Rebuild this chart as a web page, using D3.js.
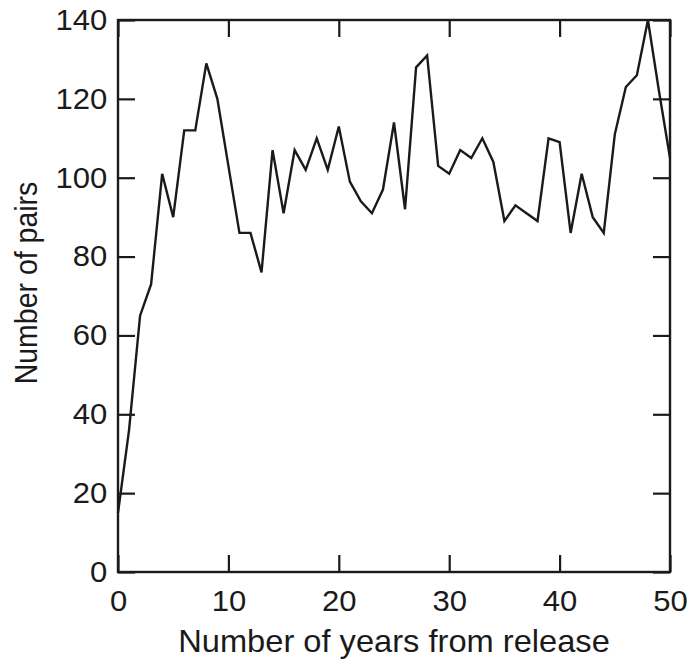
<!DOCTYPE html>
<html>
<head>
<meta charset="utf-8">
<script src="https://cdn.jsdelivr.net/npm/d3@7"></script>
<style>
  html, body { margin: 0; padding: 0; background: #fff; }
  svg { display: block; }
  text { font-family: "Liberation Sans", Arial, Helvetica, sans-serif; fill: #1a1a1a; }
</style>
</head>
<body>
<svg id="chart" width="692" height="663"></svg>
<script>
const years = d3.range(0, 51);
const pairs = [15, 36, 65, 73, 101, 90, 112, 112, 129, 120,
               103, 86, 86, 76, 107, 91, 107, 102, 110, 102,
               113, 99, 94, 91, 97, 114, 92, 128, 131, 103,
               101, 107, 105, 110, 104, 89, 93, 91, 89, 110,
               109, 86, 101, 90, 86, 111, 123, 126, 140, 122, 105];
const xTicks = [0, 10, 20, 30, 40, 50];
const yTicks = [0, 20, 40, 60, 80, 100, 120, 140];
const xTitle = "Number of years from release";
const yTitle = "Number of pairs";

const W = 692, H = 663;
const m = { left: 118, right: 22, top: 20, bottom: 91 };
const iw = W - m.left - m.right, ih = H - m.top - m.bottom;
const ink = "#1a1a1a";
const SX = 1.07; // horizontal stretch of the reference lettering

const svg = d3.select("#chart");
const g = svg.append("g").attr("transform", `translate(${m.left},${m.top})`);

const x = d3.scaleLinear().domain([0, 50]).range([0, iw]);
const y = d3.scaleLinear().domain([0, 140]).range([ih, 0]);

function style(sel, showLabels) {
  sel.select(".domain").remove();
  sel.selectAll(".tick line").attr("stroke", ink).attr("stroke-width", 2.2);
  sel.selectAll(".tick text").attr("font-size", 29).attr("fill", ink)
    .attr("transform", `scale(${SX},1)`);
  if (!showLabels) sel.selectAll(".tick text").remove();
}

const T = 17;
g.append("g").attr("transform", `translate(0,${ih})`)
  .call(d3.axisBottom(x).tickValues(xTicks).tickSize(-T).tickPadding(18).tickFormat(d3.format("d")))
  .call(s => style(s, true));
g.append("g")
  .call(d3.axisTop(x).tickValues(xTicks).tickSize(-T))
  .call(s => style(s, false));
g.append("g")
  .call(d3.axisLeft(y).tickValues(yTicks).tickSize(-T).tickPadding(10).tickFormat(d3.format("d")))
  .call(s => style(s, true));
g.append("g").attr("transform", `translate(${iw},0)`)
  .call(d3.axisRight(y).tickValues(yTicks).tickSize(-T))
  .call(s => style(s, false));

g.append("rect").attr("x", 0).attr("y", 0).attr("width", iw).attr("height", ih)
  .attr("fill", "none").attr("stroke", ink).attr("stroke-width", 2.4);

const line = d3.line().x((d, i) => x(years[i])).y(d => y(d));
g.append("path").datum(pairs).attr("d", line)
  .attr("fill", "none").attr("stroke", ink).attr("stroke-width", 2.4)
  .attr("stroke-linejoin", "miter");

svg.append("g").attr("transform", `translate(${m.left + iw / 2},652) scale(${SX},1)`)
  .append("text").attr("text-anchor", "middle").attr("font-size", 30.5).text(xTitle);
svg.append("g").attr("transform", `translate(37,283) scale(1.12,1)`)
  .append("text").attr("transform", "rotate(-90)")
  .attr("text-anchor", "middle").attr("font-size", 28.5).text(yTitle);
</script>
</body>
</html>
